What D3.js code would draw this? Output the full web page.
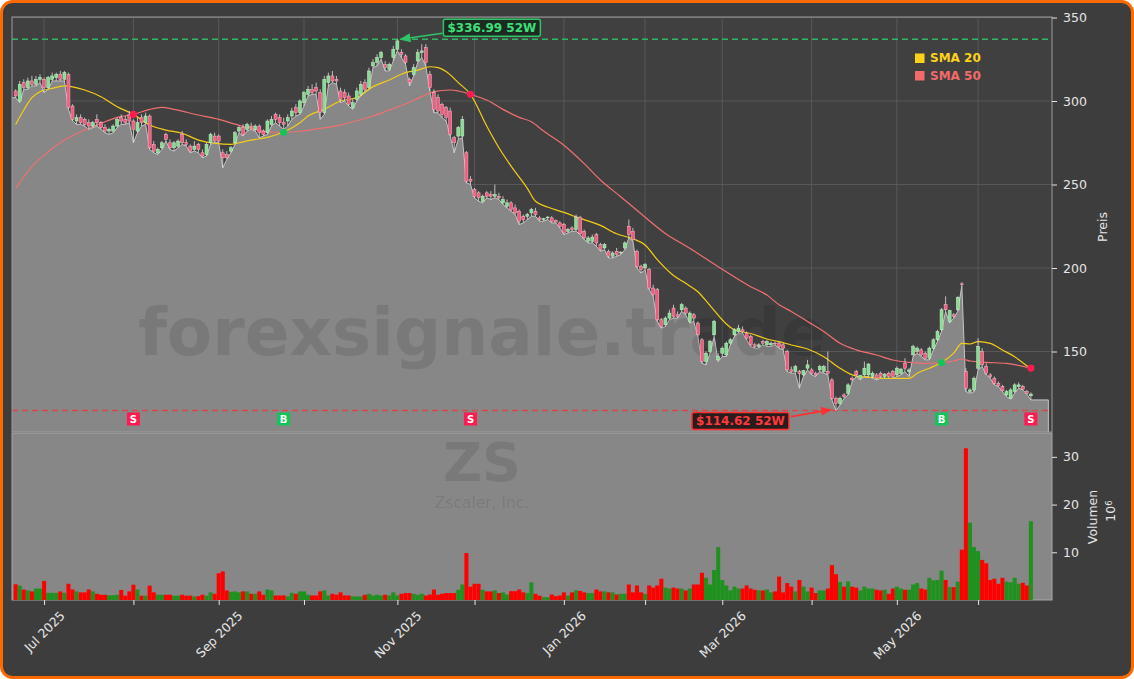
<!DOCTYPE html>
<html>
<head>
<meta charset="utf-8">
<script src="https://cdn.jsdelivr.net/npm/d3@7"></script>
<style>
  body { margin: 0; background: #ffffff; }
  svg { display: block; }
  text { font-family: "DejaVu Sans", sans-serif; }
</style>
</head>
<body>
<svg id="chart"></svg>
<script>
// ZS daily candles, one entry per trading day (index 0 = 20 Jun 2025)
const open = [306,300,311,308,312,310,313,313,308,313,314,316,313,316,297,288,290,289,287,285,289,287,284,282,282,285,290,289,292,288,
  282,290,287,291,274,269,272,280,275,272,273,280,275,273,271,274,269,268,275,279,279,269,268,270,275,282,284,283,285,283,
  285,282,281,286,292,290,287,288,291,296,293,299,304,307,308,305,293,311,315,313,306,305,303,296,301,304,311,308,321,323,
  326,322,319,326,331,329,327,313,316,324,329,332,316,305,302,298,296,294,278,279,279,269,253,247,245,240,245,244,243,243,
  239,237,239,236,234,231,231,233,234,230,229,230,230,228.5,227,226,222,224,223,230.5,222,216,216,220,214,212,210,207,210,209,
  212,225,222,210,201,200,199,188,187,169,166,170,176,172,175,176,168,172,167,157,144,150,160,145,149,148,155,160,162,163,
  161,159,154,153,156,154,154,155,155,154,150,139,138,138,136,140,139,137,139,138,138,133,122,119,124,125,134,138,134,136,
  136,135,136,137,135,137,138,136,137,143,138,148,150,151,149,146,152,157,163,178,168,172,175,190.5,138,126,127,140,150,141,
  136,134,131,129,124,122,126,129,129,126,123.5];
const high = [307,312,313,314,315,315,316,314,315,317,317,318,318,317,298,292,292,290,289,288,292,288,286,284,286,290,292,291,294,289,
  290,292,293,292,276,272,276,281,277,276,277,282,277,274,276,275,271,275,281,281,280,271,270,273,282,285,286,287,287,286,
  286,283,289,291,293,292,290,292,296,298,301,306,309,310,311,307,315,317,318,315,308,307,305,301,308,312,313,320,325,328,
  330,324,323,333,336.99,331,328,314,322,331,334,334,318,307,304,299,297,296,279,285,291,270,255,248,246,244,246,246,250,245,
  243,241,240,238,235,232,233,236,236,231,230,231,231,229,228,227,224,225,232,231,223,219,220,221,215,215,211,210,212,210,
  216,229,224,211,202,203,200,190,188,170,171,175,178,174,179,177,174,173,168,158,150,157,169,149,153,156,158,164,166,165,
  162,160,155,155,157,157,156,156,156,155,151,141,142,139,139,145,140,138,142,142,150,134,123,123,125,131,135,139,136,144,
  143,138,137,138,137,138,139,141,140,146,140,154,153,152,150,153,158,163,176,183,175,173,183,191.5,140,128,135,158,152,143,
  137,135,132,130,127,128,131,131.5,130,127,125.5];
const low = [302,299,307,307,309,309,311,305,307,312,312,312,312,295,288,286,286,285,283,284,285,283,281,280,281,284,286,286,287,275,
  281,285,286,271,269,268,271,276,271,270,272,274,273,269,270,269,266,267,274,275,275,260,265,269,274,281,279,282,283,282,
  278,279,280,285,287,285,283,285,289,291,292,297,303,304,304,289,292,309,311,310,299,300,297,295,300,303,306,307,320,321,
  325,318,318,324,330,326,322,309,315,323,326,321,306,293,293,290,288,279,269,277,278,251,250,242,240,239,242,241,242,241,
  238,236,234,232,226,227,229,231,231,228,228,229,227,227,224,220,221,222,222,220,217,215,215,213,210,211,206,206,207,208,
  211,218,216,200,197,199,187,183,168,164,165,169,170,170,174,172,167,168,159,143,142,149,159,144,147,147,154,159,161,161,
  157,153,152,152,154,153,153,154,152,151,138,137,137,128,135,139,136,135,138,137,136,121,114.62,118,122,124,132,135,133,135,
  135,134,133,134,134,134,134,135,136,138,135,147,149,147,145,145,151,156,162,174,167,170,174,189.5,126,125,126,139,141,136,
  134,130,129,126,123,121.5,125,128,127,124.5,121];
const close = [303,310,308,312,310,313,314,308,314,315,316,313,317,296,289,290,287,286,285,287,287,284,282,283,285,289,288,287,288,283,
  287,287,291,272,270,271,275,277,272,275,276,275,274,270,273,271,267,274,280,276,276,266,266,272,281,284,280,286,284,285,
  281,280,288,289,289,287,286,290,294,293,300,305,307,305,306,293,313,315,312,312,301,302,298,299,306,310,307,318,323,326,
  329,320,322,331,336,328,323,311,320,329,330,323,308,295,294,292,290,280,275,284,289,252,252,243,242,243,243,243,244,242,
  241,239,235,233,228,229,232,235,232,229,229.5,230.5,228,227.5,225,221,223,223,230.5,220.5,218,218,218.5,215,211,214,207,209,208,209.5,
  215,220,217,201,199,202,188,184,169,165,170,173,171,171,178,173,173,170,160,144,149,156,168,147,152,155,157,163,164,162,
  158,154,153,154,155,156,155,154.5,153,152,139,138,141,137,138.5,142,137,136,141,141,137,122,119,122,123,130,133,136,135.5,140,
  142.5,137,134,135,136.5,135,135,140,139.5,140,139,153,152,148,146,152,157,162,175,175,174.5,171,182.5,190,128,127,134,153,142,137,
  135,131,129.5,126.5,126,127,130,130,127.5,125,124.5];
// volume in millions of shares
const volume = [3.3,3.0,2.2,2.0,1.8,2.4,2.4,4.0,1.5,1.5,1.5,1.8,1.5,3.4,2.2,1.8,1.6,1.6,2.2,1.8,1.3,1.1,1.1,1.0,1.0,1.1,2.1,0.9,1.8,3.2,
  2.2,0.9,0.9,3.0,1.6,1.1,1.1,1.1,1.1,0.9,0.9,1.1,0.9,0.9,0.75,0.8,1.1,0.9,1.6,1.3,5.6,6.0,2.0,1.7,1.8,1.6,1.8,1.8,1.3,1.3,
  1.8,1.1,2.2,2.0,0.95,0.95,0.95,0.75,1.5,1.3,1.8,1.8,1.1,0.95,0.95,1.8,2.0,0.95,1.3,1.1,1.6,0.95,0.95,0.75,0.75,0.75,1.1,1.3,0.95,1.1,
  0.95,1.1,0.95,1.6,0.95,1.3,1.45,1.45,1.3,1.1,1.3,0.95,1.15,2.2,1.1,1.3,1.45,1.45,1.45,2.15,3.25,9.85,2.8,3.4,3.4,2.15,1.8,1.8,2.0,1.45,
  1.6,1.15,1.85,1.85,2.2,1.6,1.45,3.7,1.3,0.9,0.6,0.6,1.15,0.8,0.95,1.6,0.95,1.6,2.0,1.9,1.6,1.45,1.45,2.2,1.8,1.8,1.6,1.6,1.15,1.3,
  1.3,3.25,1.6,3.05,1.6,1.3,3.05,2.6,3.05,4.45,2.6,2.4,2.6,2.4,2.4,2.0,2.4,3.25,3.25,5.7,4.65,3.25,6.3,11.1,4.2,3.05,2.0,2.8,2.4,2.4,
  3.05,2.4,2.15,2.0,2.0,2.2,1.6,1.8,4.9,1.6,3.55,2.8,1.8,4.2,2.8,1.8,2.6,1.45,2.0,2.0,2.4,7.3,5.4,3.8,2.8,3.9,2.8,2.6,2.0,2.8,
  2.4,2.4,2.15,2.0,2.15,1.3,2.4,2.8,2.4,2.15,2.15,3.25,3.55,2.4,2.2,4.65,4.1,4.2,6.15,4.2,2.7,2.7,3.85,10.55,31.8,16.2,11.1,10.25,8.4,7.7,
  4.2,4.45,3.4,4.65,3.85,3.7,4.65,3.4,3.6,3.05,16.5];

// moving averages: [bar index, value]
const sma20 = [[0,286],[2,294.6],[4,302],[6,305.6],[9,307.6],[12,309],[14,308.5],[17,306.6],[21,302.6],[25,296.6],[29,292],[33,285.6],
  [37,282.6],[41,280.7],[45,276.6],[49,274.7],[53,274],[55,275],[58,276.6],[62,278.2],[66,281.4],[70,287],[72,291],[76,295],[80,300],
  [84,302],[88,308.6],[92,312.6],[96,317],[99,318.5],[102,320.5],[104,320],[106,317.6],[109,311],[112,304],[116,285],[119,272],[122,261],
  [126,247.7],[128,240],[131,236.5],[135,233.3],[139,229.7],[144,225.5],[148,220.5],[152,217.5],[155,213.8],[158,205],[162,195.5],
  [165,190.8],[168,185.8],[171,177.5],[175,166.5],[177,163],[181,160.8],[185,157.5],[188,155.9],[191,153.9],[195,151.5],[199,146.9],
  [203,140],[207,135.3],[212,134.3],[216,133.9],[220,133.9],[222,137],[225,140],[228,143.4],[231,149],[233,154.9],[235,154.5],
  [237,155.9],[240,154.9],[243,150.9],[246,146.9],[249,141.5],[250,140.1]];
const sma50 = [[0,247.7],[4,260.7],[8,269.6],[12,276.6],[16,281.6],[21,286.6],[25,290.2],[29,292],[33,295],[36,296.2],[39,295],[45,291.6],
  [50,289],[54,286.2],[58,283.6],[62,281.6],[66,281.3],[71,282.2],[75,283.6],[80,285.6],[84,288.2],[88,291],[92,294.6],[96,298.2],
  [100,302.6],[103,305.6],[107,306.6],[109,306],[112,304],[116,300.6],[120,295],[124,290.2],[127,287.6],[130,282],[135,273.5],[140,262.5],
  [144,252.7],[149,242.7],[154,232.5],[160,220.7],[166,211.8],[173,200.8],[181,188.8],[185,183.8],[188,178],[191,174],[195,168],[199,162],
  [203,155],[207,151],[212,147.9],[216,144.9],[220,143.5],[224,142.9],[228,143.4],[231,144.3],[233,145.5],[235,144.3],[239,143.5],
  [244,142.9],[250,140.1]];

// crossover signals
const sigIdx = [29, 66, 112, 228, 250];
const sigType = ['S', 'B', 'S', 'B', 'S'];
const sigVal = [292, 281.3, 304, 143.4, 140.1];

// axis ticks
const monthIdx = [7, 29, 50, 71, 94, 113, 135, 155, 174, 196, 217, 237];
const monthLabels = ['Jul 2025', '', 'Sep 2025', '', 'Nov 2025', '', 'Jan 2026', '', 'Mar 2026', '', 'May 2026', ''];
const priceTicks = [150, 200, 250, 300, 350];
const volTicks = [10, 20, 30];

const hi52 = 336.99, lo52 = 114.62;

const W = 1134, H = 679;
const L = 12, R = 1052, pTop = 17, pBot = 432, vTop = 433, vBot = 600;

const svg = d3.select('#chart').attr('width', W).attr('height', H);

// frame
svg.append('rect').attr('x', 1.5).attr('y', 1.5).attr('width', W - 3).attr('height', H - 3)
  .attr('rx', 11).attr('fill', '#3d3d3d').attr('stroke', '#ff6a00').attr('stroke-width', 3);

const x = d3.scaleLinear().domain([-0.9, 255.2]).range([L, R]);
const yP = d3.scaleLinear().domain([101.8, 350]).range([pBot, pTop + 0.5]);
const yV = d3.scaleLinear().domain([0, 35]).range([vBot, vTop]);

const data = close.map((c, i) => ({i: i, o: open[i], h: high[i], l: low[i], c: c, v: volume[i], up: c >= open[i]}));

// price panel
svg.append('rect').attr('x', L).attr('y', pTop).attr('width', R - L).attr('height', pBot - pTop).attr('fill', '#404040');

const grid = svg.append('g').attr('stroke', '#5e5e5e').attr('stroke-width', 0.8);
grid.selectAll('line.h').data(priceTicks).enter().append('line')
  .attr('x1', L).attr('x2', R).attr('y1', d => yP(d)).attr('y2', d => yP(d));
grid.selectAll('line.v').data(monthIdx).enter().append('line')
  .attr('x1', d => x(d)).attr('x2', d => x(d)).attr('y1', pTop).attr('y2', pBot);

// area under the lows, stretched to the panel edges
const areaPts = [[-0.9, low[0]]].concat(data.map(d => [d.i, d.l])).concat([[254.3, low[low.length - 1]]]);
svg.append('path').datum(areaPts)
  .attr('d', d3.area().x(d => x(d[0])).y0(pBot).y1(d => yP(d[1])))
  .attr('fill', '#878787');
svg.append('path').datum(areaPts.concat([[254.3, 101.8]]))
  .attr('d', d3.line().x(d => x(d[0])).y(d => yP(d[1])))
  .attr('fill', 'none').attr('stroke', '#c4c4c4').attr('stroke-width', 1);

// watermark
svg.append('text').attr('x', 482).attr('y', 355).attr('text-anchor', 'middle')
  .attr('font-size', 66).attr('font-weight', 'bold').attr('fill', '#000').attr('fill-opacity', 0.1)
  .text('forexsignale.trade');

// 52 week lines
svg.append('line').attr('x1', L).attr('x2', R).attr('y1', yP(hi52)).attr('y2', yP(hi52))
  .attr('stroke', '#2fb864').attr('stroke-width', 1.5).attr('stroke-dasharray', '6,4');
svg.append('line').attr('x1', L).attr('x2', R).attr('y1', yP(lo52)).attr('y2', yP(lo52))
  .attr('stroke', '#d84848').attr('stroke-width', 1.5).attr('stroke-dasharray', '6,4');

// moving averages
const smaLine = d3.line().x(d => x(d[0])).y(d => yP(d[1])).curve(d3.curveMonotoneX);
svg.append('path').datum(sma50).attr('d', smaLine).attr('fill', 'none').attr('stroke', '#f07070').attr('stroke-width', 1.2);
svg.append('path').datum(sma20).attr('d', smaLine).attr('fill', 'none').attr('stroke', '#f5cc18').attr('stroke-width', 1.2);

// candles
const candles = svg.append('g');
candles.selectAll('line').data(data).enter().append('line')
  .attr('x1', d => x(d.i)).attr('x2', d => x(d.i))
  .attr('y1', d => yP(d.h)).attr('y2', d => yP(d.l))
  .attr('stroke', '#dedede').attr('stroke-width', 0.8);
candles.selectAll('rect').data(data).enter().append('rect')
  .attr('x', d => x(d.i) - 1.5).attr('width', 3)
  .attr('y', d => yP(Math.max(d.o, d.c)))
  .attr('height', d => Math.max(yP(Math.min(d.o, d.c)) - yP(Math.max(d.o, d.c)), 0.8))
  .attr('fill', d => d.up ? '#86dd92' : '#ee5b7c')
  .attr('stroke', d => d.up ? '#c8f2cc' : '#ffb6c6').attr('stroke-width', 0.5);

// signals
const sigColor = t => t === 'S' ? '#ff1a4f' : '#14c45a';
svg.selectAll('circle.sig').data(sigIdx).enter().append('circle')
  .attr('cx', d => x(d)).attr('cy', (d, k) => yP(sigVal[k])).attr('r', 3.6)
  .attr('fill', (d, k) => sigColor(sigType[k]));
const sigG = svg.selectAll('g.sig').data(sigIdx).enter().append('g')
  .attr('transform', d => `translate(${x(d)},419)`);
sigG.append('rect').attr('x', -6.5).attr('y', -6.5).attr('width', 13).attr('height', 13)
  .attr('fill', (d, k) => sigColor(sigType[k]));
sigG.append('text').attr('text-anchor', 'middle').attr('dy', '0.36em')
  .attr('font-size', 10).attr('font-weight', 'bold').attr('fill', '#fff')
  .text((d, k) => sigType[k]);

// 52W annotations
const hiIdx = high.indexOf(d3.max(high)), loIdx = low.indexOf(d3.min(low));
svg.append('defs').html(
  '<marker id="ag" viewBox="0 0 10 10" refX="9" refY="5" markerWidth="7" markerHeight="7" orient="auto"><path d="M0,1L10,5L0,9z" fill="#2fc466"/></marker>' +
  '<marker id="ar" viewBox="0 0 10 10" refX="9" refY="5" markerWidth="7" markerHeight="7" orient="auto"><path d="M0,1L10,5L0,9z" fill="#ff3030"/></marker>');

const hx = x(hiIdx) + 3, hy = yP(hi52);
svg.append('line').attr('x1', hx + 42).attr('y1', hy - 6).attr('x2', hx).attr('y2', hy)
  .attr('stroke', '#2fc466').attr('stroke-width', 1.6).attr('marker-end', 'url(#ag)');
svg.append('rect').attr('x', hx + 43).attr('y', hy - 20).attr('width', 97).attr('height', 17).attr('rx', 2)
  .attr('fill', '#1d2a22').attr('stroke', '#2fc466').attr('stroke-width', 1.5);
svg.append('text').attr('x', hx + 91.5).attr('y', hy - 7.5).attr('text-anchor', 'middle')
  .attr('font-size', 12).attr('font-weight', 'bold').attr('fill', '#3ee07a')
  .text('$' + hi52.toFixed(2) + ' 52W');

const lx = x(loIdx) - 5, ly = yP(lo52) - 1;
svg.append('line').attr('x1', lx - 40).attr('y1', ly + 7).attr('x2', lx).attr('y2', ly)
  .attr('stroke', '#ff3030').attr('stroke-width', 1.6).attr('marker-end', 'url(#ar)');
svg.append('rect').attr('x', lx - 139).attr('y', ly + 3).attr('width', 97).attr('height', 17).attr('rx', 2)
  .attr('fill', '#2a1c1c').attr('stroke', '#ff3030').attr('stroke-width', 1.5);
svg.append('text').attr('x', lx - 90.5).attr('y', ly + 15.5).attr('text-anchor', 'middle')
  .attr('font-size', 12).attr('font-weight', 'bold').attr('fill', '#ff3a3a')
  .text('$' + lo52.toFixed(2) + ' 52W');

// legend
const legend = svg.append('g').attr('transform', 'translate(915,58)');
[['SMA 20', '#ffd21a'], ['SMA 50', '#f46a6a']].forEach((d, k) => {
  legend.append('rect').attr('x', 0).attr('y', k * 17.5 - 4.5).attr('width', 9.5).attr('height', 9.5).attr('fill', d[1]);
  legend.append('text').attr('x', 15).attr('y', k * 17.5).attr('dy', '0.36em')
    .attr('font-size', 12).attr('font-weight', 'bold').attr('fill', d[1]).text(d[0]);
});

// panel borders
svg.append('rect').attr('x', L).attr('y', pTop).attr('width', R - L).attr('height', pBot - pTop)
  .attr('fill', 'none').attr('stroke', '#9c9c9c').attr('stroke-width', 1);

// volume panel
svg.append('rect').attr('x', L).attr('y', vTop).attr('width', R - L).attr('height', vBot - vTop)
  .attr('fill', '#878787').attr('stroke', '#a8a8a8').attr('stroke-width', 1);
svg.append('text').attr('x', 482).attr('y', 481).attr('text-anchor', 'middle')
  .attr('font-size', 54).attr('font-weight', 'bold').attr('fill', '#000').attr('fill-opacity', 0.1).text('ZS');
svg.append('text').attr('x', 482).attr('y', 508).attr('text-anchor', 'middle')
  .attr('font-size', 15.5).attr('fill', '#000').attr('fill-opacity', 0.1).text('Zscaler, Inc.');

svg.append('g').selectAll('rect').data(data).enter().append('rect')
  .attr('x', d => x(d.i) - 2.03).attr('width', 4.06)
  .attr('y', d => yV(d.v)).attr('height', d => yV(0) - yV(d.v))
  .attr('fill', d => d.up ? '#1f911f' : '#ff0000');

// axes
const axisColor = '#e6e6e6';
const styleAxis = g => {
  g.select('.domain').remove();
  g.selectAll('line').attr('stroke', axisColor);
  g.selectAll('text').attr('fill', axisColor).attr('font-size', 12.5).attr('font-family', '"DejaVu Sans", sans-serif');
};
svg.append('g').attr('transform', `translate(${R},0)`)
  .call(d3.axisRight(yP).tickValues(priceTicks).tickSize(5).tickPadding(6)).call(styleAxis);
svg.append('g').attr('transform', `translate(${R},0)`)
  .call(d3.axisRight(yV).tickValues(volTicks).tickSize(5).tickPadding(6)).call(styleAxis);

const xAxis = svg.append('g').attr('transform', `translate(0,${vBot})`)
  .call(d3.axisBottom(x).tickValues(monthIdx).tickFormat((d, k) => monthLabels[k]).tickSize(5)).call(styleAxis);
xAxis.selectAll('text').each(function () {
  const t = d3.select(this);
  const len = this.getComputedTextLength();
  const half = (len + 12.5) * 0.7071 / 2;
  t.attr('y', null).attr('dy', '0.35em').attr('text-anchor', 'middle')
    .attr('transform', `translate(0,${9 + half}) rotate(-45)`);
});

svg.append('text').attr('transform', 'translate(1103,227) rotate(-90)').attr('text-anchor', 'middle')
  .attr('dy', '0.35em').attr('font-size', 12.5).attr('fill', axisColor).text('Preis');
svg.append('text').attr('transform', 'translate(1093,517) rotate(-90)').attr('text-anchor', 'middle')
  .attr('dy', '0.35em').attr('font-size', 12.5).attr('fill', axisColor).text('Volumen');
const exp = svg.append('text').attr('transform', 'translate(1111,511) rotate(-90)').attr('text-anchor', 'middle')
  .attr('dy', '0.35em').attr('font-size', 12.5).attr('fill', axisColor);
exp.append('tspan').text('10');
exp.append('tspan').attr('dy', '-0.45em').attr('font-size', 8.5).text('6');
</script>
</body>
</html>
